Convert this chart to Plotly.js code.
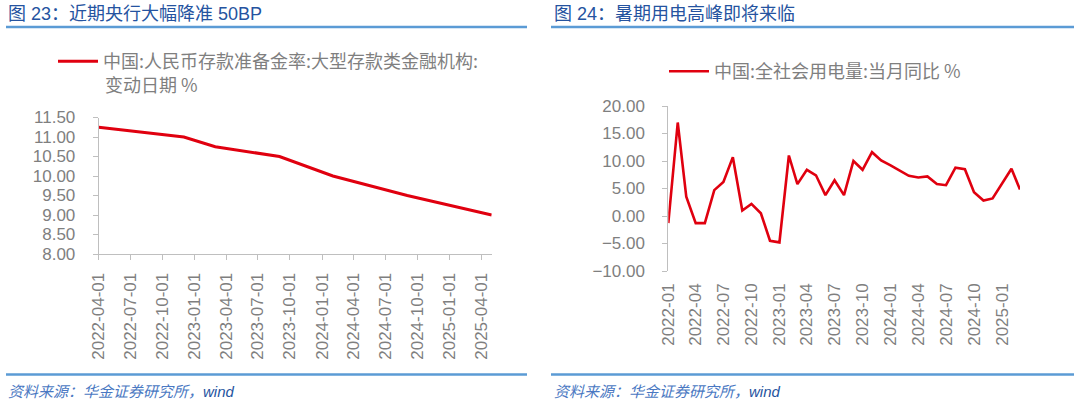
<!DOCTYPE html>
<html>
<head>
<meta charset="utf-8">
<script src="https://cdn.plot.ly/plotly-3.0.1.min.js"></script>
<style>
  html, body { margin: 0; padding: 0; background: #ffffff; }
  #chart { width: 1080px; height: 404px; }
</style>
</head>
<body>
<div id="chart"></div>
<script>
// 图23: 存款准备金率（大型存款类金融机构，变动日期，按月）
var rrrDates = ['2022-04-01', '2022-12-01', '2023-03-01', '2023-09-01', '2024-02-01', '2024-09-01', '2025-05-01'];
var rrrValues = [11.25, 11.00, 10.75, 10.50, 10.00, 9.50, 9.00];

// 图24: 全社会用电量当月同比 %
var elecMonths = [
  '2022-01', '2022-02', '2022-03', '2022-04', '2022-05', '2022-06', '2022-07', '2022-08', '2022-09', '2022-10', '2022-11', '2022-12',
  '2023-01', '2023-02', '2023-03', '2023-04', '2023-05', '2023-06', '2023-07', '2023-08', '2023-09', '2023-10', '2023-11', '2023-12',
  '2024-01', '2024-02', '2024-03', '2024-04', '2024-05', '2024-06', '2024-07', '2024-08', '2024-09', '2024-10', '2024-11', '2024-12',
  '2025-01', '2025-02', '2025-03'
];
var elecValues = [
  -1.3, 17.0, 3.5, -1.3, -1.3, 4.7, 6.2, 10.7, 1.0, 2.2, 0.5, -4.5,
  -4.8, 11.0, 5.8, 8.4, 7.4, 3.8, 6.5, 3.8, 10.0, 8.4, 11.6, 10.1,
  9.2, 8.2, 7.3, 7.0, 7.2, 5.8, 5.6, 8.8, 8.5, 4.3, 2.8, 3.2,
  5.9, 8.6, 4.8
];

// legend text (first chart's name wraps onto a second line)
var rrrName = '中国:人民币存款准备金率:大型存款类金融机构:';
var rrrName2 = '变动日期 %';
var elecName = '中国:全社会用电量:当月同比 %';

var W = 1080, H = 404;
function px(x) { return x / W; }
function py(y) { return 1 - y / H; }

var numFont = 'Liberation Sans, Arial, Noto Sans CJK SC, sans-serif';
var cjkFont = 'Noto Sans CJK SC, Liberation Sans, sans-serif';
var gray = '#7f7f7f';
var axisGray = '#bfbfbf';
var red = '#e0000f';
var blue = '#2553a0';
var lightBlue = '#4a78c2';
var ruleBlue = '#5b9bd5';

var traces = [
  {
    type: 'scatter', mode: 'lines', name: rrrName,
    x: rrrDates, y: rrrValues, xaxis: 'x', yaxis: 'y',
    line: { color: red, width: 3 },
    legend: 'legend'
  },
  {
    type: 'scatter', mode: 'lines', name: elecName,
    x: elecMonths.map(function(m) { return m + '-01'; }), y: elecValues, xaxis: 'x2', yaxis: 'y2',
    line: { color: red, width: 2.6 },
    legend: 'legend2'
  }
];

var tickFont = { family: numFont, size: 17, color: gray };
var source = '<i><span style="color:' + lightBlue + '">资料来源：华金证券研究所，</span>wind</i>';

var layout = {
  width: W, height: H,
  margin: { l: 0, r: 0, t: 0, b: 0 },
  paper_bgcolor: '#ffffff',
  plot_bgcolor: 'rgba(0,0,0,0)',
  showlegend: true,
  xaxis: {
    domain: [px(98.7), px(491.7)], anchor: 'y', type: 'date',
    range: ['2022-04-01', '2025-05-01'],
    tick0: '2022-04-01', dtick: 'M3', tickformat: '%Y-%m-%d',
    tickangle: -90, tickfont: tickFont,
    showline: true, linecolor: axisGray, linewidth: 1,
    ticks: 'outside', ticklen: 5, tickcolor: axisGray,
    showgrid: false, zeroline: false, ticklabelstandoff: 6
  },
  yaxis: {
    domain: [py(254), py(117.5)], anchor: 'x',
    range: [8, 11.5], dtick: 0.5, tickformat: '.2f', tickfont: tickFont,
    showline: true, linecolor: axisGray, linewidth: 1,
    ticks: 'outside', ticklen: 5, tickcolor: axisGray,
    showgrid: false, zeroline: false, ticklabelstandoff: 14
  },
  xaxis2: {
    domain: [px(668.3), px(1020)], anchor: 'y2', type: 'date',
    range: ['2022-01-01', '2025-03-01'],
    tick0: '2022-01-01', dtick: 'M3', tickformat: '%Y-%m',
    tickangle: -90, tickfont: tickFont,
    showline: false, ticks: '', showgrid: false, zeroline: false,
    ticklabelstandoff: 8
  },
  // x axis line with tick marks sitting on y = 0
  xaxis3: {
    overlaying: 'x2', anchor: 'free', position: py(216), type: 'date',
    range: ['2022-01-01', '2025-03-01'],
    tick0: '2022-01-01', dtick: 'M3',
    showticklabels: false,
    showline: true, linecolor: axisGray, linewidth: 1,
    ticks: 'outside', ticklen: 6, tickcolor: axisGray,
    showgrid: false, zeroline: false
  },
  yaxis2: {
    domain: [py(271), py(106)], anchor: 'x2',
    range: [-10, 20], dtick: 5, tickformat: '.2f', tickfont: tickFont,
    showline: true, linecolor: axisGray, linewidth: 1,
    ticks: 'outside', ticklen: 5, tickcolor: axisGray,
    showgrid: false, zeroline: false, ticklabelstandoff: 14
  },
  legend: {
    x: px(53), y: py(43), xanchor: 'left', yanchor: 'top',
    font: { family: cjkFont, size: 18, color: gray },
    bgcolor: 'rgba(0,0,0,0)', valign: 'top', itemwidth: 40
  },
  legend2: {
    x: px(664), y: py(53), xanchor: 'left', yanchor: 'top',
    font: { family: cjkFont, size: 18, color: gray },
    bgcolor: 'rgba(0,0,0,0)', valign: 'top', itemwidth: 40
  },
  shapes: [
    { type: 'line', xref: 'paper', yref: 'paper', x0: px(6), x1: px(527), y0: py(27), y1: py(27), line: { color: ruleBlue, width: 2.5 } },
    { type: 'line', xref: 'paper', yref: 'paper', x0: px(551), x1: px(1074), y0: py(27), y1: py(27), line: { color: ruleBlue, width: 2.5 } },
    { type: 'line', xref: 'paper', yref: 'paper', x0: px(6), x1: px(527), y0: py(374.5), y1: py(374.5), line: { color: ruleBlue, width: 2.5 } },
    { type: 'line', xref: 'paper', yref: 'paper', x0: px(551), x1: px(1074), y0: py(374.5), y1: py(374.5), line: { color: ruleBlue, width: 2.5 } }
  ],
  annotations: [
    { xref: 'paper', yref: 'paper', x: px(6), y: py(14), xanchor: 'left', yanchor: 'middle', showarrow: false,
      text: '图 23：近期央行大幅降准 50BP', font: { family: numFont, size: 18, color: blue } },
    { xref: 'paper', yref: 'paper', x: px(552), y: py(14), xanchor: 'left', yanchor: 'middle', showarrow: false,
      text: '图 24：暑期用电高峰即将来临', font: { family: numFont, size: 18, color: blue } },
    { xref: 'paper', yref: 'paper', x: px(103), y: py(84.5), xanchor: 'left', yanchor: 'middle', showarrow: false,
      text: rrrName2, font: { family: cjkFont, size: 18, color: gray } },
    { xref: 'paper', yref: 'paper', x: px(6), y: py(391.5), xanchor: 'left', yanchor: 'middle', showarrow: false,
      text: source, font: { family: numFont, size: 15, color: blue } },
    { xref: 'paper', yref: 'paper', x: px(552), y: py(391.5), xanchor: 'left', yanchor: 'middle', showarrow: false,
      text: source, font: { family: numFont, size: 15, color: blue } }
  ]
};

Plotly.newPlot('chart', traces, layout, { displayModeBar: false, staticPlot: true });
</script>
</body>
</html>
